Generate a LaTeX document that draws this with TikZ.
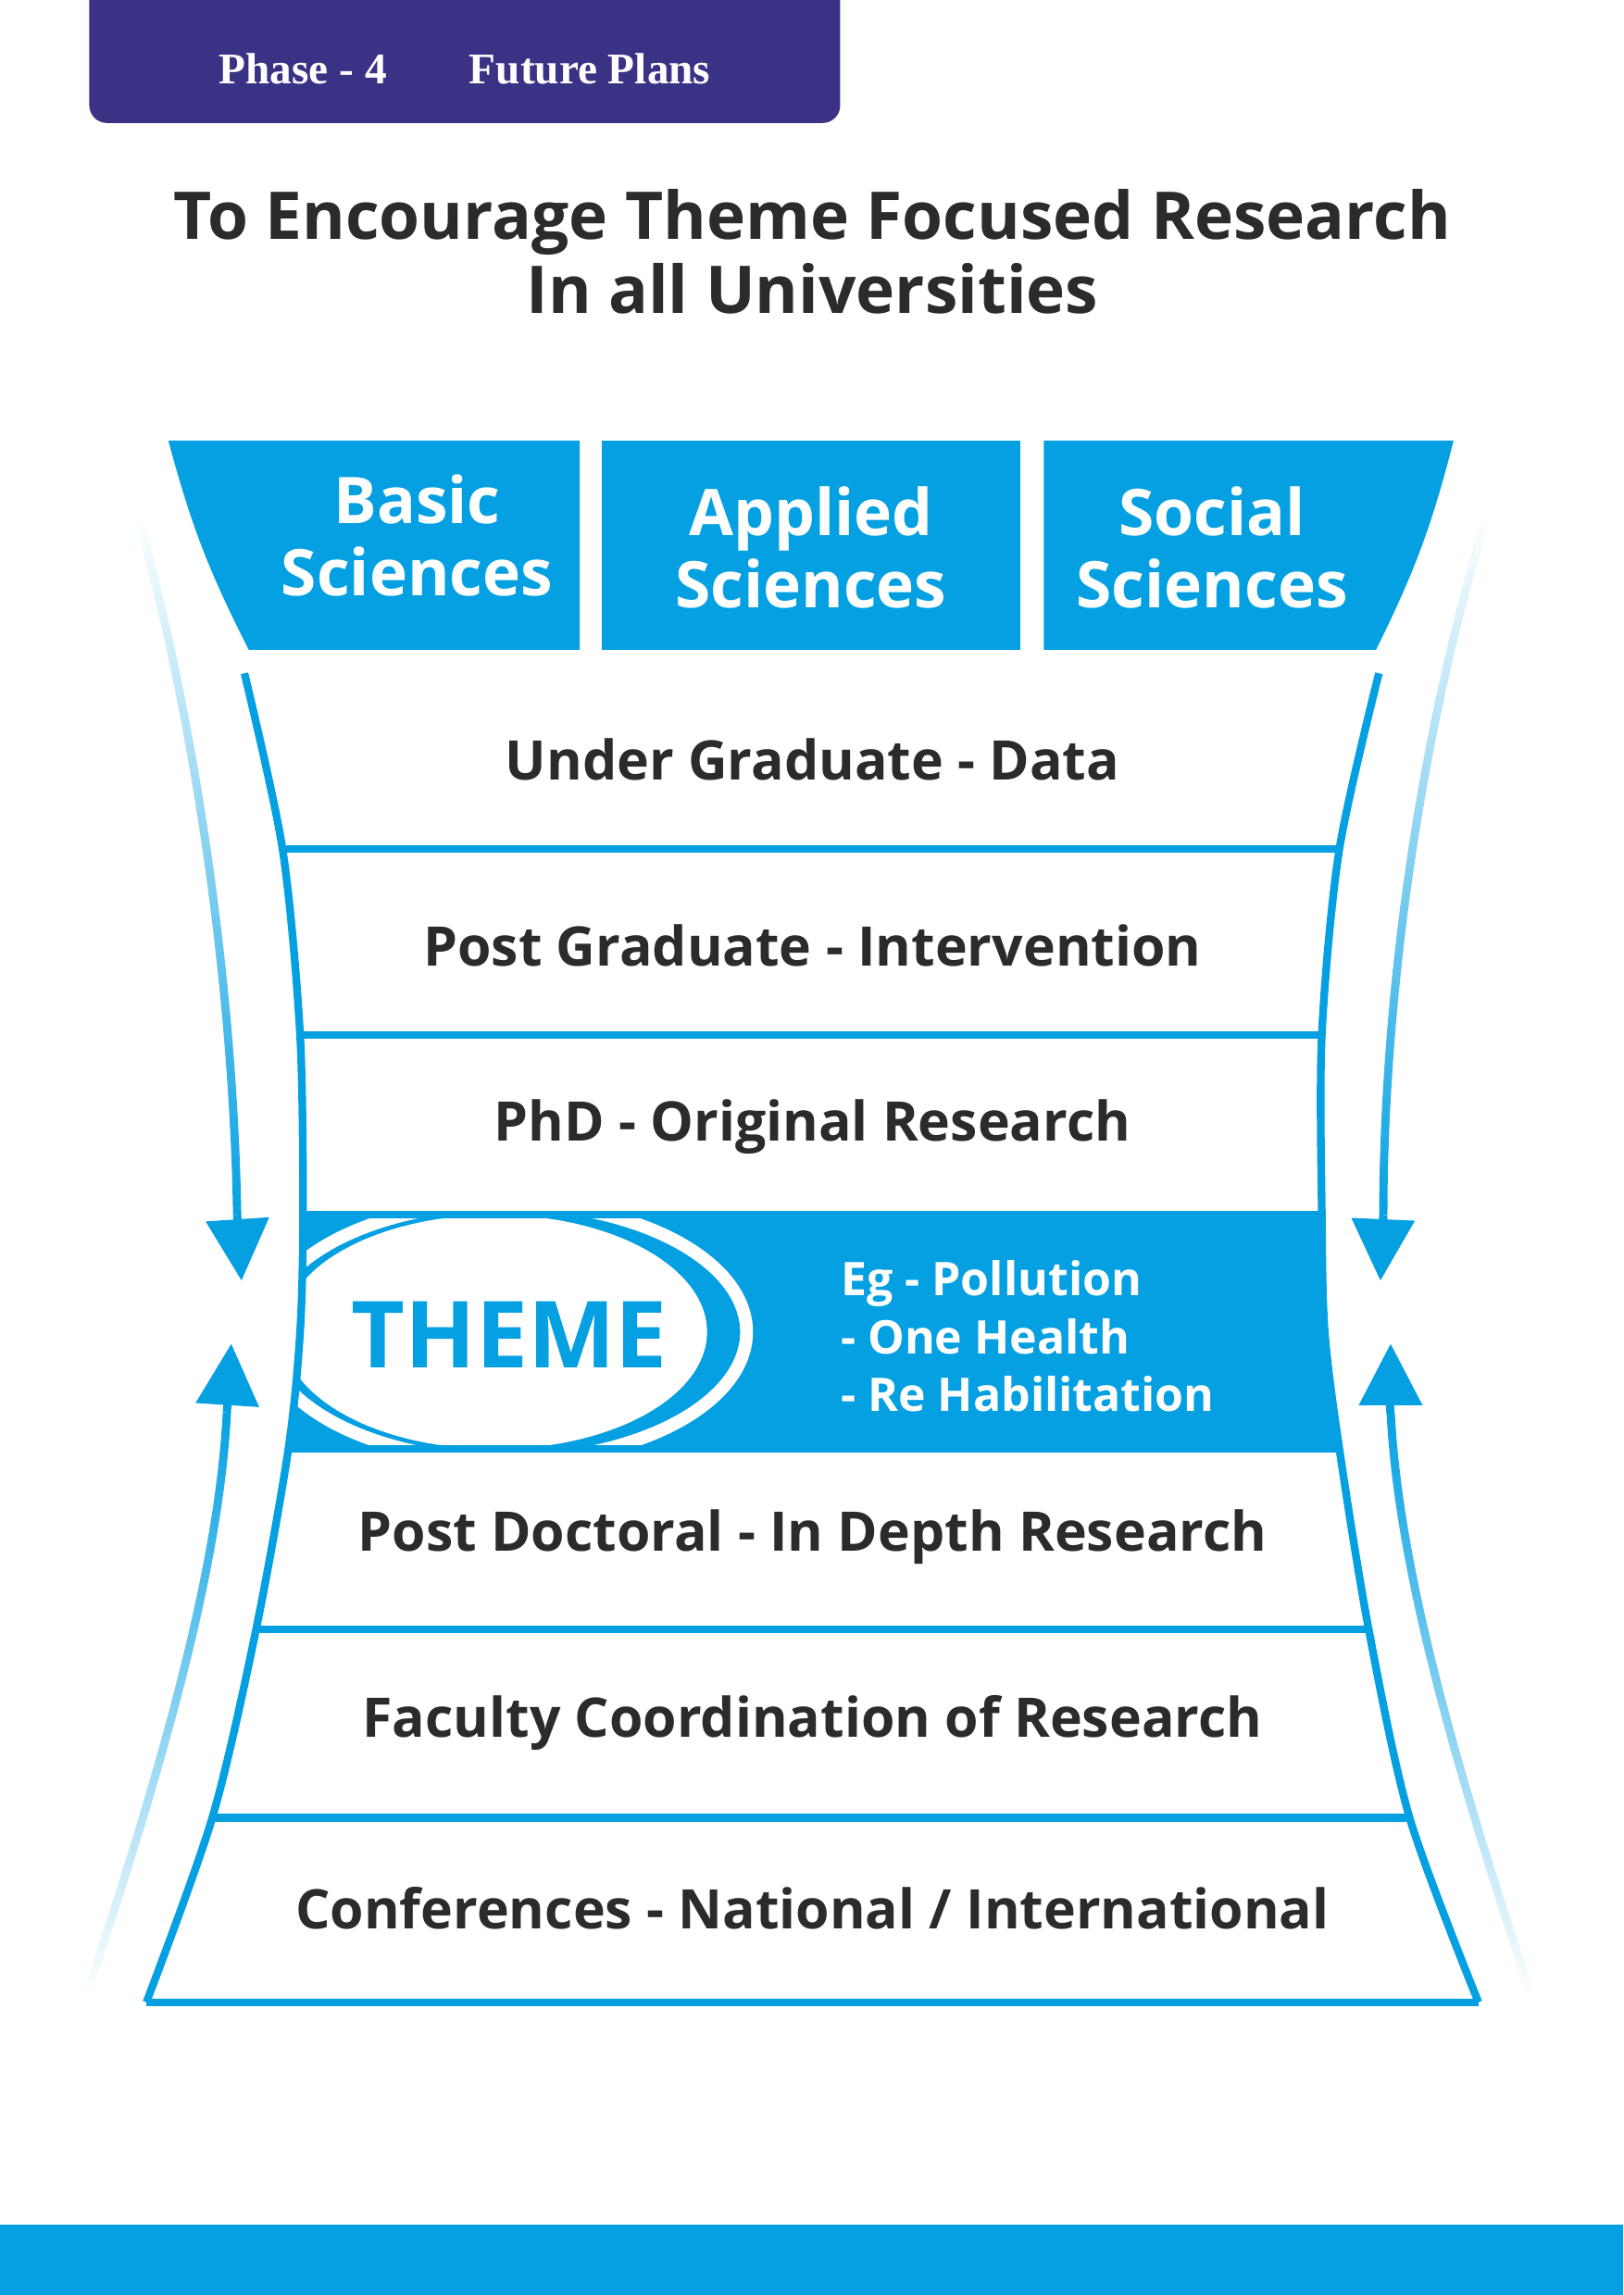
\documentclass[tikz,border=0pt]{standalone}
\usepackage{fontspec}
\setmainfont{Open Sans}
\newfontfamily\slab{Liberation Serif}
\usetikzlibrary{arrows.meta,fadings}
\definecolor{sky}{RGB}{4,160,226}
\definecolor{indigo}{RGB}{58,51,133}
\definecolor{ink}{RGB}{43,43,43}
\tikzset{
  rung/.style={sky, line width=1.5pt},
  stage/.style={text=ink, font=\bfseries\fontsize{10.6}{12}\selectfont},
  head/.style={text=white, align=center, font=\bfseries\fontsize{12.5}{14}\selectfont},
  stem/.style={sky, line width=1.6pt},
  tip/.style={sky, line width=1.6pt, -{Triangle[length=0.42cm,width=0.42cm]}}
}
\begin{document}
\begin{tikzpicture}[x=0.01cm,y=-0.01cm]
    \useasboundingbox (0,0) rectangle (1109,1568);

    % header tab and bottom strip
    \fill[indigo, rounded corners=0.12cm] (61,-20) rectangle (574,84);
    \fill[white] (0,-20) rectangle (1109,0);
    \fill[sky] (0,1520) rectangle (1109,1568);
    \node[text=white, font=\slab\bfseries\fontsize{8.5}{10}\selectfont] (phase) at (207,47) {Phase - 4};
    \node[text=white, font=\slab\bfseries\fontsize{8.5}{10}\selectfont] (plans) at (403,47) {Future Plans};

    \node[text=ink, align=center, font=\bfseries\fontsize{12.8}{14.5}\selectfont] (title) at (555,172)
        {To Encourage Theme Focused Research\\In all Universities};

    % top boxes
    \fill[sky] (115,301) -- (396,301) -- (396,444) -- (170,444) to[bend left=6] cycle;
    \fill[sky] (411,301) rectangle (697,444);
    \fill[sky] (713,301) -- (993,301) to[bend left=6] (940,444) -- (713,444) -- cycle;
    \node[head] (basic) at (285,366) {Basic\\Sciences};
    \node[head] (applied) at (554,374) {Applied\\Sciences};
    \node[head] (social) at (828,374) {Social\\Sciences};

    % theme band
    \fill[sky] (207,830) -- (903,830) -- (905,910) -- (915,990) -- (197,990) -- (205,910) -- cycle;
    \draw[white, line width=2.5pt] (345,910) ellipse (165 and 88);
    \fill[white] (338,910) ellipse (145 and 80);
    \node[sky, font=\bfseries\fontsize{18}{20}\selectfont] (theme) at (348,912) {THEME};
    \node[text=white, align=left, anchor=west, font=\bfseries\fontsize{9}{11.2}\selectfont] (eg) at (562,913)
        {Eg - Pollution\\- One Health\\- Re Habilitation};

    % funnel outline
    \draw[rung] plot[smooth] coordinates {(167,460) (193,580) (205,707) (207,830) (205,910) (197,990) (175,1113) (145,1242) (100,1368)};
    \draw[rung] plot[smooth] coordinates {(942,460) (915,580) (903,707) (903,830) (905,910) (915,990) (935,1113) (963,1242) (1010,1368)};
    \foreach \y/\l/\r in {580/193/915, 707/205/903, 830/207/903, 990/197/915, 1113/175/935, 1242/145/963, 1368/100/1010}{
        \draw[rung] (\l,\y) -- (\r,\y);
    }

    \node[stage] (ug) at (555,519) {Under Graduate - Data};
    \node[stage] (pg) at (555,646) {Post Graduate - Intervention};
    \node[stage] (phd) at (555,770) {PhD - Original Research};
    \node[stage] (pd) at (555,1050) {Post Doctoral - In Depth Research};
    \node[stage] (fac) at (555,1177) {Faculty Coordination of Research};
    \node[stage] (conf) at (555,1304) {Conferences - National / International};

    % side arrows
    \coordinate (ld0) at (95,355);   \coordinate (ld1) at (162,830);  \coordinate (ld2) at (165,875);
    \coordinate (lu0) at (60,1360);  \coordinate (lu1) at (155,965);  \coordinate (lu2) at (158,918);
    \coordinate (rd0) at (1015,355); \coordinate (rd1) at (945,830);  \coordinate (rd2) at (943,875);
    \coordinate (ru0) at (1045,1360);\coordinate (ru1) at (950,965);  \coordinate (ru2) at (950,918);
    \draw[stem, path fading=north] (ld0) .. controls (140,520) and (160,700) .. (ld1);
    \draw[stem, path fading=north] (rd0) .. controls (965,520) and (945,700) .. (rd1);
    \draw[stem, path fading=south] (lu0) .. controls (120,1180) and (150,1060) .. (lu1);
    \draw[stem, path fading=south] (ru0) .. controls (985,1180) and (955,1060) .. (ru1);
    \draw[tip] (ld1) -- (ld2);
    \draw[tip] (rd1) -- (rd2);
    \draw[tip] (lu1) -- (lu2);
    \draw[tip] (ru1) -- (ru2);
\end{tikzpicture}
\end{document}
